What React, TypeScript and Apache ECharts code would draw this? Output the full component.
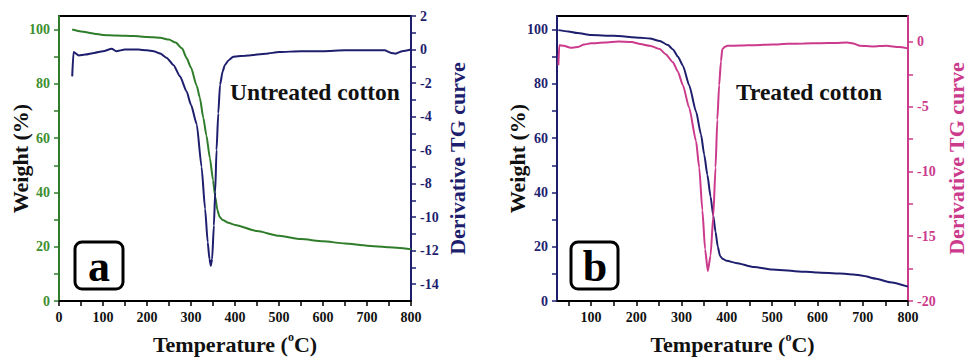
import React, { useEffect, useRef } from "react";
import * as echarts from "echarts";

// ---- Panel a: untreated cotton ----
const untreatedTGTemp = [30, 50, 80, 100, 130, 170, 200, 230, 250, 265, 280, 290, 300, 313, 320, 328, 335, 343, 350, 355, 360, 365, 372, 385, 400, 450, 500, 550, 600, 650, 700, 750, 800];
const untreatedTGWeight = [100, 99.3, 98.5, 98, 97.8, 97.6, 97.3, 97, 96.3, 95.2, 93, 89.5, 86, 79.3, 75, 67.5, 61, 52.6, 44.5, 38.5, 33.5, 31, 29.8, 28.8, 28, 25.8, 24, 22.8, 22, 21.2, 20.4, 19.8, 19.1];

const untreatedDTGTemp = [30, 33, 45, 60, 80, 100, 120, 130, 150, 180, 200, 215, 230, 245, 260, 275, 290, 300, 313, 324, 332, 338, 342, 345, 348, 352, 355, 358, 362, 366, 372, 377, 385, 396, 430, 470, 500, 550, 600, 650, 700, 740, 755, 765, 780, 800];
const untreatedDTG = [-1.6, -0.15, -0.35, -0.3, -0.2, -0.1, 0.05, -0.1, 0, 0, -0.05, -0.1, -0.24, -0.5, -0.92, -1.6, -2.5, -3.3, -4.45, -7, -9.5, -11.5, -12.5, -12.9, -12.5, -10.5, -8.5, -6, -3.8, -2.1, -1.3, -0.92, -0.65, -0.43, -0.35, -0.25, -0.15, -0.1, -0.1, -0.05, -0.05, -0.05, -0.2, -0.25, -0.1, 0];

// ---- Panel b: treated cotton ----
const treatedTGTemp = [28, 50, 70, 100, 150, 209, 230, 252, 270, 281, 292, 303, 317, 332, 343, 350, 357, 364, 370, 375, 380, 385, 390, 400, 420, 460, 500, 550, 600, 650, 680, 700, 730, 760, 800];
const treatedTGWeight = [99.8, 99.3, 98.7, 98, 97.7, 97, 96.7, 95.8, 94.3, 92.7, 90, 86.7, 79.4, 69.8, 61.3, 54, 46.5, 38.5, 31.5, 25.5, 20, 16.6, 15.6, 14.8, 14, 12.5, 11.6, 11, 10.5, 10.1, 9.8, 9.3, 8.2, 6.9, 5.3];

const treatedDTGTemp = [28, 30, 40, 55, 70, 85, 100, 130, 160, 190, 209, 230, 252, 265, 281, 292, 303, 317, 332, 339, 346, 352, 358, 364, 370, 375, 379, 383, 387, 390, 395, 401, 430, 462, 500, 535, 570, 607, 640, 665, 679, 694, 723, 752, 780, 800];
const treatedDTG = [-1.8, -0.25, -0.3, -0.45, -0.4, -0.2, -0.1, -0.05, 0.03, 0, -0.17, -0.3, -0.55, -0.95, -1.57, -2.3, -3.35, -5.1, -7.65, -9.7, -13, -16, -17.7, -16.5, -13.5, -9.7, -6, -3.35, -1.5, -0.55, -0.4, -0.3, -0.28, -0.25, -0.2, -0.15, -0.12, -0.1, -0.08, -0.05, -0.12, -0.3, -0.35, -0.3, -0.4, -0.5];

// ---- Tick values (minor + major) ----
const xTicksA = [0, 50, 100, 150, 200, 250, 300, 350, 400, 450, 500, 550, 600, 650, 700, 750, 800];
const xTicksB = [50, 100, 150, 200, 250, 300, 350, 400, 450, 500, 550, 600, 650, 700, 750, 800];
const weightTicks = [0, 10, 20, 30, 40, 50, 60, 70, 80, 90, 100];
const dtgTicksA = [-14, -13, -12, -11, -10, -9, -8, -7, -6, -5, -4, -3, -2, -1, 0, 1, 2];
const dtgTicksB = [-20, -17.5, -15, -12.5, -10, -7.5, -5, -2.5, 0];
// label steps
const xLabelStep = 100;
const weightLabelStep = 20;
const dtgLabelStepA = 2;
const dtgLabelStepB = 5;

const GREEN = "#2f7d2a";
const GREEN_LBL = "#3d8f2f";
const NAVY = "#1e1e6e";
const MAGENTA = "#cc3a8c";
const SERIF = "Liberation Serif";

const zip = (a: number[], b: number[]) => a.map((v, i) => [v, b[i]]);

const every = (step: number) => (v: number) => (Math.abs(v % step) < 1e-9 ? String(v) : "");

const labelStyle = (color: string, step: number) => ({
  show: true,
  margin: 9,
  color,
  fontFamily: "Liberation Serif, serif",
  fontWeight: 700,
  fontSize: 14,
  formatter: every(step),
});

function xAxis(grid: number, min: number, interval: number, ticks: number[]) {
  return {
    type: "value",
    gridIndex: grid,
    min,
    max: 800,
    interval,
    splitLine: { show: false },
    axisLine: { show: true, onZero: false, lineStyle: { color: "#000", width: 2 } },
    axisTick: { show: true, inside: false, length: 5, customValues: ticks, lineStyle: { color: "#000", width: 1.5 } },
    axisLabel: labelStyle("#111", xLabelStep),
    name: "{a|Temperature (}{s|o}{a|C)}",
    nameLocation: "middle",
    nameGap: 30,
    nameMoveOverlap: false,
    nameTextStyle: {
      rich: {
        a: { fontFamily: SERIF, fontWeight: "bold", fontSize: 22, color: "#111", lineHeight: 26 },
        s: { fontFamily: SERIF, fontWeight: "bold", fontSize: 12, color: "#111", verticalAlign: "top", lineHeight: 14 },
      },
    },
  };
}

function yAxis(grid: number, pos: string, min: number, max: number, interval: number, ticks: number[], step: number, color: string, labelColor: string, name: string, nameColor: string, nameGap: number) {
  return {
    type: "value",
    gridIndex: grid,
    position: pos,
    min,
    max,
    interval,
    splitLine: { show: false },
    axisLine: { show: true, onZero: false, lineStyle: { color, width: 2 } },
    axisTick: { show: true, inside: false, length: 5, customValues: ticks, lineStyle: { color, width: 1.5 } },
    axisLabel: labelStyle(labelColor, step),
    name,
    nameLocation: "middle",
    nameRotate: 90,
    nameGap,
    nameMoveOverlap: false,
    nameTextStyle: { fontFamily: SERIF, fontWeight: "bold", fontSize: 22, color: nameColor },
  };
}

export default function App() {
  const ref = useRef<HTMLDivElement>(null);
  useEffect(() => {
    document.body.style.margin = "0";
    if (!ref.current) return;
    const chart = echarts.init(ref.current, undefined, { renderer: "svg" });
    const lineCommon = { type: "line", showSymbol: false, smooth: 0.2, smoothMonotone: "x", silent: true };
    chart.setOption({
      animation: false,
      backgroundColor: "#fff",
      textStyle: { fontFamily: SERIF, fontWeight: "bold" },
      grid: [
        { left: 59, top: 16, width: 352, height: 288, show: true, borderColor: "#000", borderWidth: 2, backgroundColor: "transparent" },
        { left: 557, top: 16, width: 355, height: 290, show: true, borderColor: "#000", borderWidth: 2, backgroundColor: "transparent" },
      ],
      xAxis: [xAxis(0, 0, 100, xTicksA), xAxis(1, 25, 25, xTicksB)],
      yAxis: [
        yAxis(0, "left", 0, 105, 20, weightTicks, weightLabelStep, GREEN, GREEN_LBL, "Weight (%)", "#111", 28),
        yAxis(0, "right", -15, 2, 1, dtgTicksA, dtgLabelStepA, NAVY, NAVY, "Derivative TG curve", NAVY, 35),
        yAxis(1, "left", 0, 105, 20, weightTicks, weightLabelStep, NAVY, NAVY, "Weight (%)", "#111", 29),
        yAxis(1, "right", -20, 2, 5, dtgTicksB, dtgLabelStepB, MAGENTA, MAGENTA, "Derivative TG curve", MAGENTA, 37),
      ],
      series: [
        { ...lineCommon, name: "Untreated TG", xAxisIndex: 0, yAxisIndex: 0, data: zip(untreatedTGTemp, untreatedTGWeight), lineStyle: { color: GREEN, width: 2 }, itemStyle: { color: GREEN } },
        { ...lineCommon, name: "Untreated DTG", xAxisIndex: 0, yAxisIndex: 1, data: zip(untreatedDTGTemp, untreatedDTG), lineStyle: { color: NAVY, width: 2 }, itemStyle: { color: NAVY } },
        { ...lineCommon, name: "Treated TG", xAxisIndex: 1, yAxisIndex: 2, data: zip(treatedTGTemp, treatedTGWeight), lineStyle: { color: NAVY, width: 2 }, itemStyle: { color: NAVY } },
        { ...lineCommon, name: "Treated DTG", xAxisIndex: 1, yAxisIndex: 3, data: zip(treatedDTGTemp, treatedDTG), lineStyle: { color: MAGENTA, width: 2 }, itemStyle: { color: MAGENTA } },
      ],
      graphic: [
        { type: "text", x: 230, y: 92, style: { text: "Untreated cotton", font: `bold 23.5px "${SERIF}"`, fill: "#111", verticalAlign: "middle", align: "left" } },
        { type: "text", x: 736, y: 92, style: { text: "Treated cotton", font: `bold 23.5px "${SERIF}"`, fill: "#111", verticalAlign: "middle", align: "left" } },
        { type: "rect", shape: { x: 75, y: 242, width: 48, height: 47, r: 7 }, style: { fill: "none", stroke: "#000", lineWidth: 3 } },
        { type: "text", x: 99, y: 266, style: { text: "a", font: `bold 44px "${SERIF}"`, fill: "#000", align: "center", verticalAlign: "middle" } },
        { type: "rect", shape: { x: 571, y: 242, width: 47, height: 47, r: 7 }, style: { fill: "none", stroke: "#000", lineWidth: 3 } },
        { type: "text", x: 595, y: 266, style: { text: "b", font: `bold 44px "${SERIF}"`, fill: "#000", align: "center", verticalAlign: "middle" } },
      ],
    });
    return () => chart.dispose();
  }, []);
  return <div ref={ref} style={{ width: 968, height: 360 }} />;
}
